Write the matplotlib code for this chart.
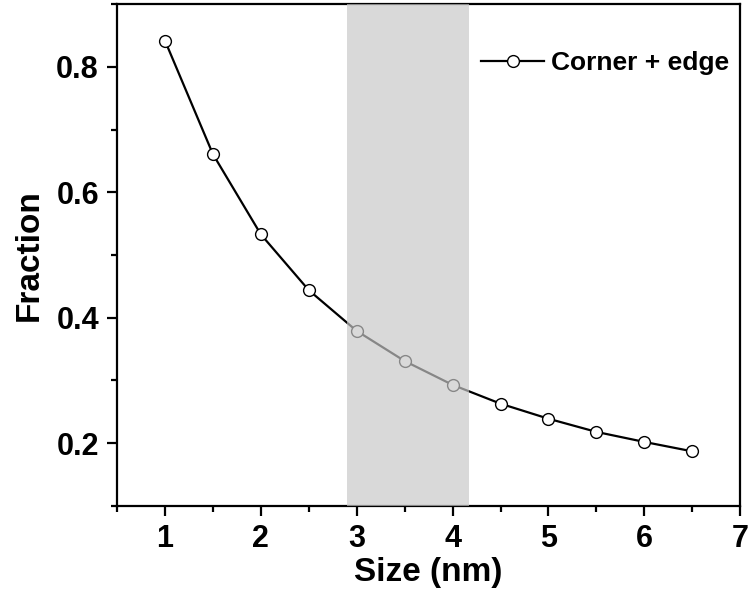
import matplotlib
matplotlib.use("Agg")
import matplotlib.pyplot as plt
from matplotlib.ticker import MultipleLocator

# 数据：尺寸与角+边原子比例
size_nm = [1.0, 1.5, 2.0, 2.5, 3.0, 3.5, 4.0, 4.5, 5.0, 5.5, 6.0, 6.5]
fraction = [0.842, 0.661, 0.533, 0.444, 0.379, 0.331, 0.293, 0.263, 0.239, 0.218, 0.202, 0.187]
band = [2.9, 4.17]

plt.rcParams["font.family"] = ["Liberation Sans", "DejaVu Sans"]
plt.rcParams["font.weight"] = "bold"

fig = plt.figure(figsize=(7.5, 5.98), dpi=100)
ax = fig.add_axes([0.156, 0.154, 0.831, 0.839])

ax.plot(size_nm, fraction, color="black", linewidth=1.6, marker="o", markersize=8.5,
        markerfacecolor="white", markeredgecolor="black", markeredgewidth=1.0,
        label="Corner + edge", zorder=2)

# 灰色区域盖在曲线上面
ax.axvspan(band[0], band[1], color="#c8c8c8", alpha=0.68, linewidth=0, zorder=3)

ax.set_xlim(0.5, 7)
ax.set_ylim(0.1, 0.9)
ax.xaxis.set_minor_locator(MultipleLocator(0.5))
ax.yaxis.set_minor_locator(MultipleLocator(0.1))
ax.set_xticks([1, 2, 3, 4, 5, 6, 7])
ax.set_yticks([0.2, 0.4, 0.6, 0.8])

for s in ax.spines.values():
    s.set_linewidth(1.6)

ax.tick_params(axis="both", which="major", direction="out", length=7, width=1.6,
               labelsize=22, pad=6)
ax.tick_params(axis="both", which="minor", direction="out", length=4, width=1.6)

ax.set_xlabel("Size (nm)", fontsize=24, fontweight="bold", labelpad=2)
ax.set_ylabel("Fraction", fontsize=24, fontweight="bold", labelpad=8)

ax.legend(loc="center left", bbox_to_anchor=(0.584, 0.8825), frameon=False, fontsize=19,
          handlelength=2.4, handletextpad=0.25, borderaxespad=0, borderpad=0)

plt.savefig("out.png", dpi=100)
